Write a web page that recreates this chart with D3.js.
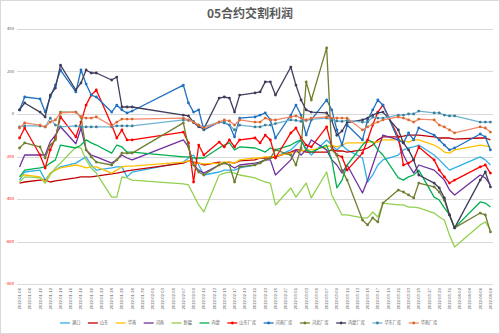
<!DOCTYPE html>
<html><head><meta charset="utf-8">
<script src="https://cdn.jsdelivr.net/npm/d3@7"></script>
<style>body{margin:0;background:#fff}svg{display:block}</style>
</head><body>
<svg id="c" width="500" height="334"></svg>
<script>
const dates = ["2022-01-06","2022-01-07","2022-01-10","2022-01-11","2022-01-12","2022-01-13","2022-01-14","2022-01-17","2022-01-18","2022-01-19",
"2022-01-20","2022-01-21","2022-01-24","2022-01-25","2022-01-26","2022-01-27","2022-01-28","2022-02-07","2022-02-08","2022-02-09",
"2022-02-10","2022-02-11","2022-02-14","2022-02-15","2022-02-16","2022-02-17","2022-02-18","2022-02-21","2022-02-22","2022-02-23",
"2022-02-24","2022-02-25","2022-02-28","2022-03-01","2022-03-02","2022-03-03","2022-03-04","2022-03-07","2022-03-08","2022-03-09",
"2022-03-10","2022-03-11","2022-03-14","2022-03-15","2022-03-16","2022-03-17","2022-03-18","2022-03-21","2022-03-22","2022-03-23",
"2022-03-24","2022-03-25","2022-03-28","2022-03-29","2022-03-30","2022-03-31","2022-04-01","2022-04-06","2022-04-07","2022-04-08"];

const seriesNames = ["港口","山东","华南","河南","新疆","内蒙","山东厂库","河南厂库","河北厂库","内蒙厂库","华东厂库","华南厂库"];

const gangkou = [-311,-273,-264,-311,-278,-264,-249,-231,-216,-202,-240,-264,-254,-249,-249,-296,-273,-226,-207,-193,-240,-287,-273,-264,-264,-264,-254,-240,-226,-216,-207,-202,-169,-146,-122,-169,-193,-122,-146,-169,-146,-169,-207,-320,-287,-240,-216,-193,-169,-160,-155,-146,-193,-216,-240,-264,-254,-202,-216,-240];
const shandong = [-325,-320,-311,-311,-320,-315,-311,-301,-296,-296,-296,-292,-282,-278,-273,-268,-264,-231,-221,-226,-231,-240,-226,-231,-226,-231,-221,-216,-207,-207,-207,-202,-179,-169,-169,-179,-179,-179,-169,-174,-174,-179,-169,-160,-146,-122,-108,-108,-104,-99,-99,-99,-108,-113,-113,-113,-118,-113,-113,-122];
const huanan = [-296,-287,-296,-320,-278,-264,-254,-240,-245,-254,-249,-249,-278,-264,-249,-245,-245,-226,-221,-231,-231,-235,-231,-226,-226,-231,-216,-207,-207,-202,-202,-198,-184,-179,-174,-169,-169,-155,-146,-155,-146,-136,-136,-132,-132,-132,-122,-122,-127,-132,-122,-122,-146,-160,-179,-184,-169,-146,-150,-155];
const henan = [-249,-193,-193,-193,-130,-100,-60,-140,-66,-169,-193,-202,-231,-216,-193,-207,-216,-122,-155,-240,-264,-278,-240,-231,-240,-254,-240,-231,-226,-216,-216,-287,-216,-169,-193,-169,-122,-169,-216,-240,-278,-240,-372,-311,-240,-169,-99,-122,-193,-240,-278,-240,-264,-287,-311,-358,-381,-287,-301,-334];
const xinjiang = [-320,-296,-301,-325,-287,-254,-231,-155,-160,-216,-254,-278,-391,-391,-296,-301,-311,-329,-334,-381,-428,-461,-287,-278,-273,-278,-287,-301,-311,-320,-325,-428,-348,-391,-358,-325,-395,-273,-381,-428,-475,-475,-489,-489,-461,-485,-419,-428,-428,-438,-438,-442,-466,-485,-499,-570,-626,-522,-508,-546];
const neimeng = [-296,-264,-254,-249,-231,-216,-146,-160,-146,-122,-136,-146,-184,-146,-155,-179,-179,-202,-202,-207,-207,-207,-160,-146,-136,-169,-155,-160,-169,-179,-160,-169,-146,-132,-122,-169,-179,-146,-216,-348,-311,-240,-146,-122,-132,-169,-193,-301,-311,-296,-287,-264,-391,-405,-442,-475,-536,-414,-419,-438];
const shandongCK = [-113,-66,-193,-254,-169,-113,-14,-108,-38,42,89,113,-52,-113,-75,-122,-122,-85,-136,-320,-146,-193,-132,-155,-122,-155,-122,-113,-136,-99,-122,-207,-89,-66,-113,-146,-155,-61,-155,-193,-202,-264,-184,-122,-52,9,42,-108,-240,-231,-216,-155,-216,-264,-296,-325,-311,-249,-240,-278];
const henanCK = [19,80,71,9,80,136,207,104,207,141,89,80,9,42,19,5,14,136,52,9,19,-75,-38,-42,-52,-108,-19,-14,-5,5,-28,-113,-5,42,-5,-99,-28,66,19,-75,-146,-52,-122,-28,19,66,42,-122,-136,-89,-122,-66,-99,-122,-146,-169,-160,-94,-108,-169];
const hebeiCK = [-160,-136,-155,-207,-146,-122,9,9,-14,-169,-202,-226,-240,-216,-184,-184,-184,-42,-155,-240,-273,-287,-240,-231,-240,-320,-249,-240,-231,-216,-207,-169,-193,-240,-160,151,66,311,-169,-193,-264,-311,-499,-522,-489,-508,-419,-358,-367,-381,-395,-325,-343,-367,-405,-475,-536,-466,-475,-555];
const neimengCK = [19,52,9,-14,89,122,230,113,146,207,193,193,160,174,33,33,33,-5,-9,-40,-60,-70,75,80,75,9,89,99,104,151,151,89,221,136,66,19,9,5,-30,-100,-80,-40,-28,-19,-5,5,9,-75,-136,-169,-216,-287,-325,-348,-395,-475,-536,-311,-273,-343];
const huadongCK = [-61,-56,-56,-61,-19,-52,-61,-56,-61,-61,-61,-61,-61,-56,-56,-56,-56,-28,-30,-35,-52,-61,-38,-38,-52,-75,-52,-61,-61,-52,-52,-45,-28,-30,-35,-30,-25,-19,-28,-33,-35,-30,-38,-38,-14,-19,-19,-5,-5,0,0,14,5,5,-5,-9,-9,-38,-38,-38];
const huananCK = [-66,-42,-52,-61,-38,-28,5,9,-14,-19,-19,-14,-56,-38,-24,-24,-24,-19,-28,-38,-52,-66,-38,-28,-33,-52,-28,-38,-38,-19,-28,-28,-14,-9,-19,-28,-19,-14,-19,-19,-19,-19,-75,-61,-47,-38,-28,-14,-19,-28,-38,-24,-28,-52,-61,-75,-89,-61,-66,-85];

const yTicks = [400,200,0,-200,-400,-600,-800];
const titleText = "05合约交割利润";

const allSeries = [gangkou,shandong,huanan,henan,xinjiang,neimeng,shandongCK,henanCK,hebeiCK,neimengCK,huadongCK,huananCK];
const styles = [
  {c:"#2fb0e8",m:null},{c:"#c00000",m:null},{c:"#ffc000",m:null},{c:"#7030a0",m:null},
  {c:"#92d050",m:null},{c:"#00b050",m:null},{c:"#ff0000",m:"#ff0000"},{c:"#1f70c0",m:"#1f70c0"},
  {c:"#6f7f30",m:"#6f7f30"},{c:"#3f3d5c",m:"#3f3d5c"},{c:"#6fb2cf",m:"#3a7f98"},{c:"#f4886a",m:"#d9692a"}
];

const parse = d3.timeParse("%Y-%m-%d");
const pd = dates.map(parse);
const svg = d3.select("#c");
const FONT = "'Noto Sans CJK SC','Noto Sans',sans-serif";

svg.append("rect").attr("x",0.5).attr("y",0.5).attr("width",499).attr("height",333)
  .attr("fill","#fff").attr("stroke","#d9d9d9");

const x0 = d3.timeHour.offset(pd[0], -12), x1 = d3.timeHour.offset(pd[pd.length-1], 12);
const x = d3.scaleTime().domain([x0, x1]).range([17, 493]);
const y = d3.scaleLinear().domain([-800, 400]).range([284, 29]);

svg.append("text").attr("x",250).attr("y",18).attr("text-anchor","middle")
  .attr("font-family",FONT).attr("font-size",12).attr("font-weight","bold").attr("fill","#595959").text(titleText);

// grid
svg.append("g").selectAll("line").data(yTicks).join("line")
  .attr("x1",17).attr("x2",493).attr("y1",d=>Math.round(y(d))+0.5).attr("y2",d=>Math.round(y(d))+0.5)
  .attr("stroke","#d9d9d9").attr("stroke-width",1);

svg.append("g").selectAll("text").data(yTicks).join("text")
  .attr("x",14).attr("y",d=>y(d)).attr("dy","0.35em").attr("text-anchor","end")
  .attr("font-family",FONT).attr("font-size",4.2)
  .attr("fill",d=>d<0?"#ff0000":"#595959").text(d=>d);

// x axis labels
const xTicks = d3.timeDay.range(pd[0], d3.timeDay.offset(pd[pd.length-1],1), 2);
const fmt = d3.timeFormat("%Y-%m-%d");
svg.append("g").selectAll("text").data(xTicks).join("text")
  .attr("transform",d=>`translate(${x(d)},288) rotate(-90)`)
  .attr("dy","0.35em").attr("text-anchor","end")
  .attr("font-family",FONT).attr("font-size",4.2).attr("fill","#595959").text(fmt);

// lines
const line = d3.line().x((d,i)=>x(pd[i])).y(d=>y(d));
allSeries.forEach((s,k)=>{
  const st = styles[k];
  const g = svg.append("g");
  g.append("path").datum(s).attr("d",line).attr("fill","none")
    .attr("stroke",st.c).attr("stroke-width",1.3).attr("stroke-linejoin","round");
  if (st.m) {
    g.selectAll("circle").data(s).join("circle")
      .attr("cx",(d,i)=>x(pd[i])).attr("cy",d=>y(d)).attr("r",1.4).attr("fill",st.m);
  }
});

// legend
const lg = svg.append("g");
let lx = 60;
const ly = 323;
seriesNames.forEach((n,k)=>{
  const st = styles[k];
  lg.append("line").attr("x1",lx).attr("x2",lx+10).attr("y1",ly).attr("y2",ly)
    .attr("stroke",st.c).attr("stroke-width",1.3);
  if (st.m) lg.append("circle").attr("cx",lx+5).attr("cy",ly).attr("r",1.4).attr("fill",st.m);
  const t = lg.append("text").attr("x",lx+12).attr("y",ly).attr("dy","0.35em")
    .attr("font-family",FONT).attr("font-size",4.2).attr("fill","#595959").text(n);
  const w = t.node().getComputedTextLength();
  lx += 12 + w + 7.5;
});
</script>
</body></html>
